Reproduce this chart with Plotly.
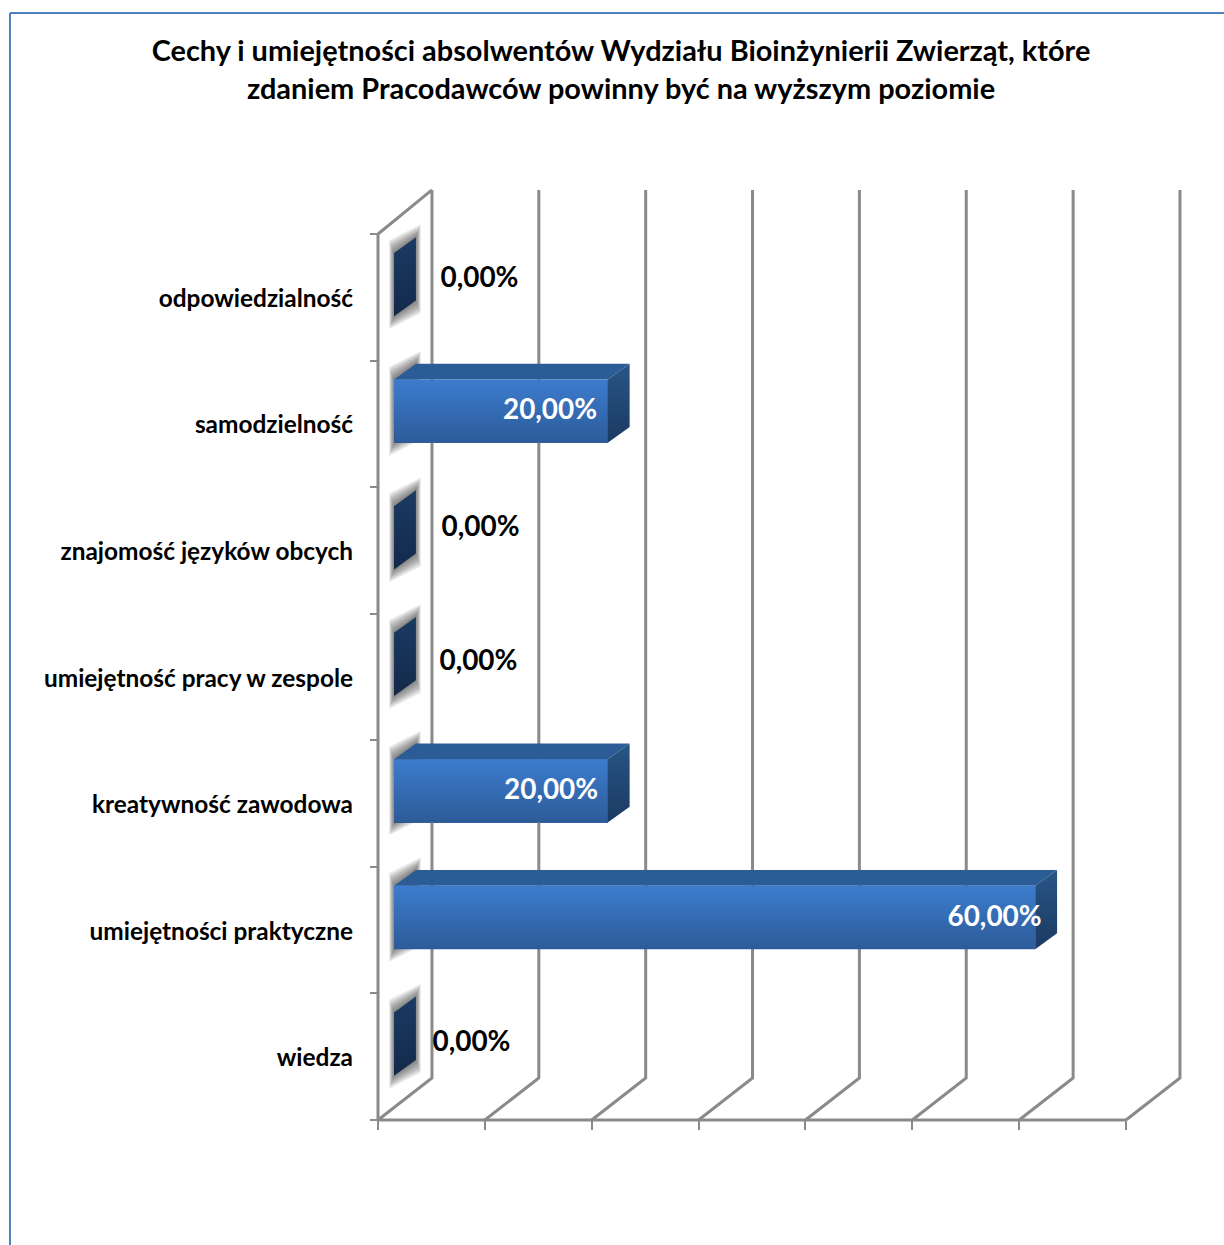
import plotly.graph_objects as go

TITLE = "Cechy i umiejętności absolwentów Wydziału Bioinżynierii Zwierząt, które<br>zdaniem Pracodawców powinny być na wyższym poziomie"
categories = ["wiedza", "umiejętności praktyczne", "kreatywność zawodowa",
              "umiejętność pracy w zespole", "znajomość języków obcych",
              "samodzielność", "odpowiedzialność"]
values = [0, 60, 20, 0, 0, 20, 0]
value_labels = ["0,00%", "60,00%", "20,00%", "0,00%", "0,00%", "20,00%", "0,00%"]
x_ticks = [0, 10, 20, 30, 40, 50, 60, 70]

# layout constants
W, H = 1224, 1245
X0, X1, Y0, Y1 = 378, 1126, 1120, 234
PX_X = (X1 - X0) / 70
PX_Y = (Y0 - Y1) / 7
FONT = "Lato, Carlito, Calibri, sans-serif"
GRID = "#8a8a8a"
WALL_DX, WALL_DY, WALL_TOP = 5.05, 0.332, 6.848
BAR_BASE, BAR_LIFT, BAR_H = 1.5, 0.1, 0.5
DEPTH_X, DEPTH_Y = 2.05, 0.125
LABEL_DX = [8.75, -2.3, -3.8, 9.4, 9.6, -3.9, 9.5]
LABEL_DY = [0.1, 0.088, 0.091, 0.11, 0.169, 0.093, 0.136]

fig = go.Figure()
idx = list(range(len(categories)))

# the bars themselves
fig.add_trace(go.Bar(x=values, y=[i + BAR_LIFT for i in idx], base=BAR_BASE, orientation="h",
                     width=BAR_H, marker=dict(color="#3467ad", line_width=0), hoverinfo="skip"))

def line(xs, ys, color=GRID, width=3):
    fig.add_trace(go.Scatter(x=xs, y=ys, mode="lines", hoverinfo="skip",
                             line=dict(color=color, width=width, simplify=False)))

def poly(xs, ys, top, bottom):
    fig.add_trace(go.Scatter(x=xs + xs[:1], y=ys + ys[:1], mode="lines", fill="toself",
                             hoverinfo="skip", line=dict(width=0),
                             fillgradient=dict(type="vertical",
                                               colorscale=[[0, bottom], [1, top]])))

def flat(xs, ys, color):
    fig.add_trace(go.Scatter(x=xs + xs[:1], y=ys + ys[:1], mode="lines", fill="toself",
                             hoverinfo="skip", line=dict(width=0), fillcolor=color))

# walls, axis lines and gridlines
for v in x_ticks:
    line([v, v + WALL_DX, v + WALL_DX], [-0.5, -0.5 + WALL_DY, WALL_TOP])
line([WALL_DX, 0, 0], [WALL_TOP, 6.5, -0.5])
line([0, 70], [-0.5, -0.5], width=3.2)

# soft shadow behind each bar's end slab
for i in idx:
    b = i + BAR_LIFT - BAR_H / 2
    t = i + BAR_LIFT + BAR_H / 2
    for k in range(1, 9):
        ex = (9 - k) * 0.6 / PX_X
        ey = (9 - k) * 1.6 / PX_Y
        lo = BAR_BASE - ex
        hi = BAR_BASE + DEPTH_X + ex
        flat([lo, hi, hi, lo], [t + ey, t + DEPTH_Y + ey, b + DEPTH_Y - ey, b - ey], "rgba(60,60,60,0.10)")

# bar faces
for i, v in zip(idx, values):
    b = i + BAR_LIFT - BAR_H / 2
    t = i + BAR_LIFT + BAR_H / 2
    l, r = BAR_BASE, BAR_BASE + v
    if v > 0:
        poly([l, l + DEPTH_X, r + DEPTH_X, r], [t, t + DEPTH_Y, t + DEPTH_Y, t], "#2c5c96", "#2c5c96")
        poly([l, r, r, l], [t, t, b, b], "#3c7cce", "#2d5b98")
        poly([r, r + DEPTH_X, r + DEPTH_X, r], [t, t + DEPTH_Y, b + DEPTH_Y, b], "#285585", "#1b3a63")
    else:
        poly([r, r + DEPTH_X, r + DEPTH_X, r], [t, t + DEPTH_Y, b + DEPTH_Y, b], "#1b3b63", "#13294a")

# value labels
fig.add_trace(go.Scatter(
    x=[v + d for v, d in zip(values, LABEL_DX)],
    y=[i + d for i, d in zip(idx, LABEL_DY)],
    mode="text", text=value_labels, hoverinfo="skip",
    textfont=dict(family=FONT, size=27.9, weight="bold",
                  color=["white" if v > 0 else "black" for v in values])))

fig.update_layout(
    width=W, height=H, margin=dict(l=0, r=0, t=0, b=0), autosize=False,
    paper_bgcolor="white", plot_bgcolor="rgba(0,0,0,0)", showlegend=False, bargap=0,
    title=dict(text=TITLE, x=621 / W, xanchor="center", xref="paper", y=1 - 61 / H, yanchor="middle",
               font=dict(family=FONT, size=28.9, color="black", weight="bold")),
    xaxis=dict(range=[-X0 / PX_X, (W - X0) / PX_X], domain=[0, 1], tickvals=x_ticks, showticklabels=False,
               anchor="free", position=1 - Y0 / H,
               ticks="outside", ticklen=9, tickwidth=2, tickcolor=GRID, showgrid=False, zeroline=False,
               showline=False),
    yaxis=dict(range=[-0.5 - (H - Y0) / PX_Y, 6.5 + Y1 / PX_Y], domain=[0, 1], tickvals=idx, ticktext=categories,
               anchor="free", position=X0 / W,
               ticks="", ticklabelstandoff=25, ticklabelshift=1, showgrid=False, zeroline=False, showline=False,
               tickfont=dict(family=FONT, size=24.4, color="black", weight="bold"),
               minor=dict(tickvals=[i - 0.5 for i in range(8)], ticks="outside", ticklen=8,
                          tickwidth=2, tickcolor=GRID, showgrid=False)),
    shapes=[
        dict(type="line", xref="paper", yref="paper", x0=10 / W, x1=10 / W, y0=0, y1=1 - 13 / H,
             line=dict(color="#4f81bd", width=2)),
        dict(type="line", xref="paper", yref="paper", x0=10 / W, x1=1, y0=1 - 13 / H, y1=1 - 13 / H,
             line=dict(color="#4f81bd", width=2)),
    ],
)
fig.write_html("out.html", config=dict(displayModeBar=False), post_script="document.body.style.margin='0';")
